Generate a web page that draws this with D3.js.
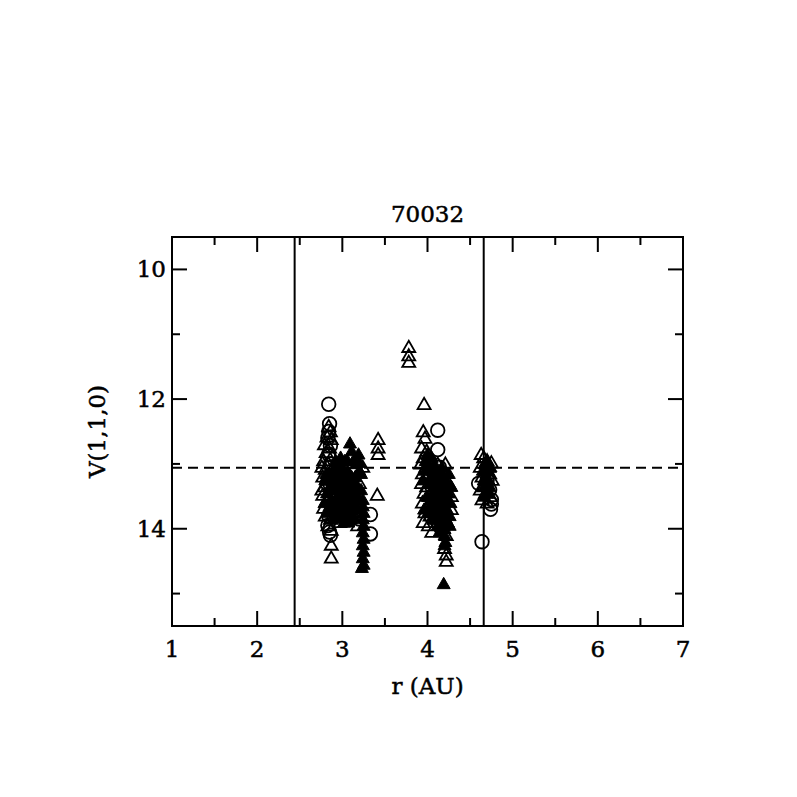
<!DOCTYPE html>
<html><head><meta charset="utf-8">
<script src="https://cdn.jsdelivr.net/npm/d3@7"></script>
<style>html,body{margin:0;padding:0;background:#fff;}</style>
</head><body>
<svg id="chart" width="797" height="797"></svg>
<script>
const title = "70032";
const xLabel = "r (AU)";
const yLabel = "V(1,1,0)";
const xTicks = [1, 2, 3, 4, 5, 6, 7];
const xMinorTicks = [1.5, 2.5, 3.5, 4.5, 5.5, 6.5];
const yTicks = [10, 12, 14];
const yMinorTicks = [11, 13, 15];
const verticalLines = [2.44, 4.66];
const dashedLevel = 13.06;

const openTriangles = [
  [2.84,12.42],[2.86,12.5],[2.82,12.58],[2.87,12.62],[2.79,12.7],[2.85,12.75],[2.81,12.82],[2.88,12.88],
  [2.78,12.95],[2.84,13.0],[2.80,13.08],[2.86,13.12],[2.77,13.2],[2.83,13.25],[2.89,13.28],[2.79,13.35],
  [2.85,13.4],[2.77,13.48],[2.82,13.55],[2.88,13.6],[2.78,13.68],[2.84,13.72],[2.80,13.8],[2.86,13.85],
  [2.83,13.95],[2.87,14.02],[2.87,14.25],[2.87,14.45],[2.76,13.05],[2.76,13.4],[2.90,13.5],[2.92,13.7],
  [2.95,13.3],[2.97,13.9],[3.0,13.15],[3.02,13.6],[3.05,13.85],[3.08,13.4],[3.12,13.75],[3.15,13.55],
  [3.18,13.95],[3.2,13.3],[3.24,13.05],[3.42,12.62],[3.42,12.75],[3.42,12.85],[3.41,13.48],
  [3.78,11.2],[3.78,11.33],[3.78,11.43],
  [3.96,12.08],[3.95,12.5],[3.97,12.6],[3.93,12.75],[3.99,12.8],[3.95,12.9],[3.92,13.0],[3.98,13.05],
  [4.02,12.95],[3.94,13.15],[4.0,13.2],[3.93,13.3],[3.99,13.35],[4.05,13.25],[3.96,13.45],[4.02,13.5],
  [3.94,13.6],[4.0,13.65],[4.06,13.55],[3.97,13.75],[4.03,13.8],[3.95,13.9],[4.01,13.95],[4.08,13.85],
  [4.05,14.05],[4.12,13.9],[4.15,13.7],[4.18,13.95],[4.22,14.1],[4.2,14.3],[4.22,14.4],[4.22,14.5],
  [4.21,13.0],[4.12,13.0],[4.25,13.3],[4.28,13.5],[4.28,13.7],[4.1,13.4],[4.14,13.55],[4.08,13.15],
  [4.63,12.85],[4.66,12.9],[4.7,12.95],[4.75,12.98],[4.62,13.05],[4.68,13.1],[4.73,13.15],[4.64,13.2],
  [4.7,13.3],[4.76,13.25],[4.62,13.4],[4.68,13.45],[4.74,13.5],[4.64,13.55],[4.7,13.6],[4.72,13.05],[4.66,13.35]
];
const filledTriangles = [
  [3.09,12.68],[3.11,12.8],[3.19,12.85],[3.2,12.98],[2.92,12.95],[2.95,13.0],[2.98,12.9],[3.0,13.05],
  [3.03,12.95],[3.06,13.1],[2.93,13.15],[2.96,13.25],[2.99,13.2],[3.02,13.3],[3.05,13.25],[3.08,13.35],
  [3.11,13.2],[3.14,13.4],[2.91,13.4],[2.94,13.5],[2.97,13.45],[3.0,13.55],[3.03,13.5],[3.06,13.6],
  [3.09,13.55],[3.12,13.65],[3.15,13.2],[3.17,13.5],[2.92,13.7],[2.95,13.75],[2.98,13.65],[3.01,13.8],
  [3.04,13.75],[3.07,13.9],[3.1,13.85],[2.9,13.85],[2.93,13.6],[2.88,13.3],[2.89,13.1],[2.87,13.55],
  [3.22,13.15],[3.22,13.4],[3.24,13.55],[3.24,13.65],[3.25,13.75],[3.24,13.85],[3.25,13.95],[3.24,14.05],
  [3.25,14.15],[3.24,14.25],[3.25,14.35],[3.24,14.45],[3.25,14.55],[3.23,14.6],[2.8,13.25],[2.82,13.45],
  [2.79,13.6],[2.81,13.15],[2.83,13.75],[3.18,13.7],[3.16,13.0],[3.13,12.95],
  [2.94,13.05],[2.97,13.1],[3.0,13.35],[3.04,13.4],[3.07,13.2],[3.1,13.45],[3.13,13.3],[2.92,13.28],
  [2.96,13.62],[3.0,13.68],[3.05,13.65],[3.08,13.72],[3.12,13.5],[3.15,13.65],[3.18,13.35],[3.2,13.55],
  [2.86,13.35],[2.85,13.65],[2.84,13.2],[3.02,13.9],[2.98,13.82],[3.14,13.82],[3.2,13.1],[3.06,12.95],
  [4.0,12.85],[3.98,12.95],[4.02,13.05],[4.05,12.9],[4.08,13.0],[4.1,13.1],[4.04,13.2],[4.12,13.25],
  [4.15,13.1],[4.18,13.2],[4.2,13.3],[4.07,13.35],[4.11,13.45],[4.14,13.4],[4.17,13.5],[4.21,13.45],
  [4.24,13.55],[4.06,13.6],[4.09,13.7],[4.13,13.65],[4.16,13.75],[4.19,13.6],[4.23,13.7],[4.26,13.8],
  [4.08,13.85],[4.12,13.95],[4.16,13.9],[4.2,14.0],[4.24,13.9],[4.27,13.6],[4.28,13.35],[4.25,13.15],
  [4.2,14.1],[4.21,14.2],[4.2,14.25],[4.19,14.85],[3.97,13.1],[3.99,13.5],[4.01,13.75],
  [4.03,13.3],[4.06,13.45],[4.1,13.55],[4.13,13.15],[4.16,13.3],[4.19,13.4],[4.22,13.25],[4.25,13.45],
  [4.03,13.65],[4.07,13.8],[4.11,13.8],[4.15,13.6],[4.18,13.8],[4.22,13.85],[4.26,13.95],[4.14,14.05],
  [3.95,13.25],[3.96,13.7],[4.0,13.0],[4.17,13.05],
  [4.67,13.0],[4.71,13.1],[4.69,13.2],[4.73,13.35],[4.67,13.5],[4.7,12.95],[4.65,13.1],[4.72,13.25],
  [4.68,13.35],[4.71,13.45],[4.66,13.25],[4.74,13.05]
];
const openCircles = [
  [2.84,12.08],[2.85,12.38],[2.84,12.5],[2.83,12.6],[2.86,12.72],[2.84,12.85],[2.86,13.0],[2.82,13.3],
  [2.85,13.6],[2.84,13.8],[2.83,13.95],[2.85,14.05],[2.86,14.1],[2.95,13.5],[3.0,13.7],[3.05,13.8],
  [3.1,13.65],[3.33,13.78],[3.33,14.08],[3.2,13.85],
  [4.12,12.48],[4.12,12.78],[4.14,13.05],[4.1,13.3],[4.15,13.55],
  [4.6,13.3],[4.73,13.4],[4.75,13.55],[4.75,13.62],[4.74,13.7],[4.64,14.2],[4.7,13.25]
];

const svg = d3.select("#chart");
const L = 172, R = 683, T = 237, B = 626;
const x = d3.scaleLinear().domain([1, 7]).range([L, R]);
const y = d3.scaleLinear().domain([9.5, 15.5]).range([T, B]);
const font = "'DejaVu Serif', serif";
const fs = 23;

const g = svg.append("g");

g.append("rect").attr("x", L).attr("y", T).attr("width", R - L).attr("height", B - T)
  .attr("fill", "none").attr("stroke", "#000").attr("stroke-width", 2);

const majX = 15, minX = 8, majY = 15, minY = 8;
function tickLines(vals, len, isX) {
  vals.forEach(v => {
    if (isX) {
      const px = x(v);
      g.append("line").attr("x1", px).attr("x2", px).attr("y1", B).attr("y2", B - len).attr("stroke", "#000").attr("stroke-width", 2);
      g.append("line").attr("x1", px).attr("x2", px).attr("y1", T).attr("y2", T + len).attr("stroke", "#000").attr("stroke-width", 2);
    } else {
      const py = y(v);
      g.append("line").attr("y1", py).attr("y2", py).attr("x1", L).attr("x2", L + len).attr("stroke", "#000").attr("stroke-width", 2);
      g.append("line").attr("y1", py).attr("y2", py).attr("x1", R).attr("x2", R - len).attr("stroke", "#000").attr("stroke-width", 2);
    }
  });
}
tickLines(xTicks, majX, true);
tickLines(xMinorTicks, minX, true);
tickLines(yTicks, majY, false);
tickLines(yMinorTicks, minY, false);

function txt(sel) {
  return sel.attr("font-family", font).attr("font-size", fs).attr("fill", "#000")
    .attr("stroke", "#000").attr("stroke-width", 0.5);
}
txt(g.selectAll(".xl").data(xTicks).enter().append("text")
  .attr("x", d => x(d)).attr("y", 657).attr("text-anchor", "middle")).text(d => d);
txt(g.selectAll(".yl").data(yTicks).enter().append("text")
  .attr("x", 166).attr("y", d => y(d) + 8).attr("text-anchor", "end")).text(d => d);

txt(g.append("text").attr("x", (L + R) / 2).attr("y", 694).attr("text-anchor", "middle")).text(xLabel);
txt(g.append("text").attr("transform", `translate(105,${(T + B) / 2}) rotate(-90)`).attr("text-anchor", "middle")).text(yLabel);
txt(g.append("text").attr("x", (L + R) / 2).attr("y", 222).attr("text-anchor", "middle")).text(title);

verticalLines.forEach(v => {
  g.append("line").attr("x1", x(v)).attr("x2", x(v)).attr("y1", T).attr("y2", B)
    .attr("stroke", "#000").attr("stroke-width", 2);
});
g.append("line").attr("x1", L).attr("x2", R).attr("y1", y(dashedLevel)).attr("y2", y(dashedLevel))
  .attr("stroke", "#000").attr("stroke-width", 2).attr("stroke-dasharray", "10,6");

const tri = "M0,-6.5L6.5,4.8L-6.5,4.8Z";
g.append("g").selectAll("path").data(openTriangles).enter().append("path")
  .attr("d", tri).attr("transform", d => `translate(${x(d[0])},${y(d[1])})`)
  .attr("fill", "none").attr("stroke", "#000").attr("stroke-width", 1.8);
g.append("g").selectAll("path").data(filledTriangles).enter().append("path")
  .attr("d", tri).attr("transform", d => `translate(${x(d[0])},${y(d[1])})`)
  .attr("fill", "#000").attr("stroke", "#000").attr("stroke-width", 1);
g.append("g").selectAll("circle").data(openCircles).enter().append("circle")
  .attr("cx", d => x(d[0])).attr("cy", d => y(d[1])).attr("r", 6.8)
  .attr("fill", "none").attr("stroke", "#000").attr("stroke-width", 1.8);
</script>
</body></html>
